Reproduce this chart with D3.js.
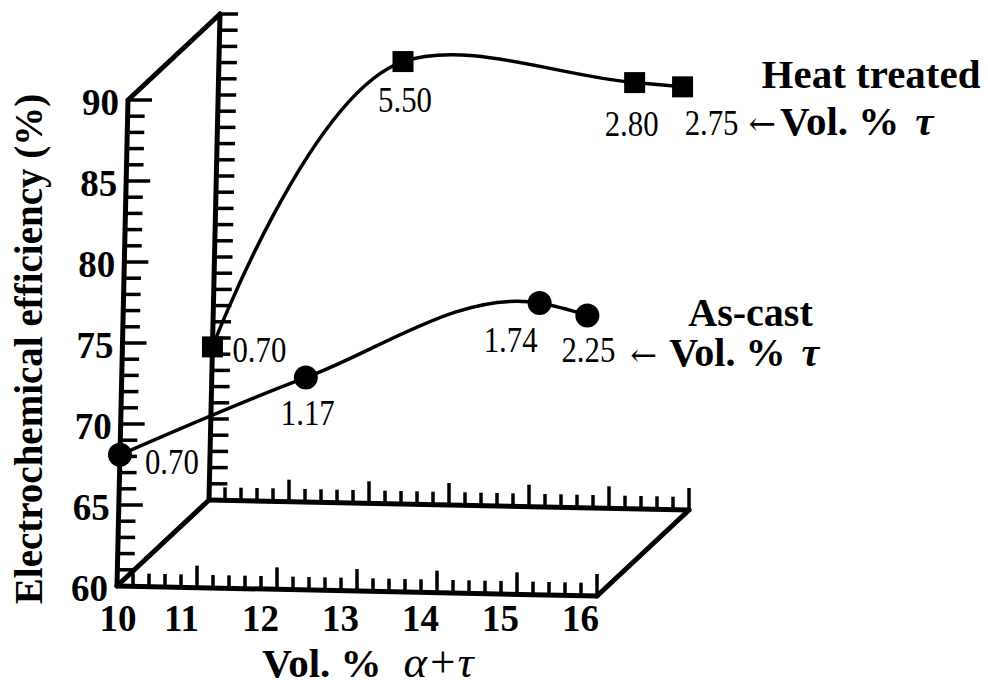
<!DOCTYPE html>
<html>
<head>
<meta charset="utf-8">
<script src="https://cdn.jsdelivr.net/npm/d3@7"></script>
<style>
  body { margin: 0; background: #fff; }
  text { font-family: "Liberation Serif", "Times New Roman", serif; fill: #000; }
</style>
</head>
<body>
<div id="chart-area"></div>
<script>
// data
const volAlphaTau = [10.0, 12.3, 15.2, 15.8];      // Vol. % alpha+tau
const asCast = [68.1, 73.1, 78.0, 77.3];           // front plane
const heatTreated = [69.45, 87.3, 86.3, 86.1];     // back plane
const tauAsCast = ["0.70", "1.17", "1.74", "2.25"];
const tauHeat = ["0.70", "5.50", "2.80", "2.75"];
const xTickLabels = [10, 11, 12, 13, 14, 15, 16];
const yTickLabels = [60, 65, 70, 75, 80, 85, 90];

const width = 988, height = 686;
const origin = [117, 586];      // x=10, y=60 on the front plane
const depth = [92, -86];        // offset of the back plane

const svg = d3.select("#chart-area")
    .append("svg")
    .attr("width", width)
    .attr("height", height);

svg.append("rect").attr("width", width).attr("height", height).attr("fill", "#fff");

// oblique projection built from linear scales
const xRun = d3.scaleLinear().domain([10, 16]).range([0, 480]);
const xRise = d3.scaleLinear().domain([10, 16]).range([0, 10]);
const yRise = d3.scaleLinear().domain([60, 90]).range([0, -486]);
const ySlant = d3.scaleLinear().domain([60, 90]).range([0, 11]);

const P = (x, y, z) => [
    origin[0] + xRun(x) + ySlant(y) + z * depth[0],
    origin[1] + xRise(x) + yRise(y) + z * depth[1]
];

const axisW = 5, tickW = 3.5;
const g = svg.append("g");

function seg(a, b, w, cap) {
    g.append("line")
        .attr("x1", a[0]).attr("y1", a[1])
        .attr("x2", b[0]).attr("y2", b[1])
        .attr("stroke", "#000").attr("stroke-width", w)
        .attr("stroke-linecap", cap || "round");
}

// y ticks, every 1 %
d3.range(61, 91).forEach(v => {
    const major = v % 5 === 0;
    [0, 1].forEach(z => {
        const a = P(10, v, z);
        const len = z === 0 ? (major ? 24 : 17) : 18;
        seg(a, [a[0] + len, a[1]], tickW, "butt");
    });
});

// x ticks, every 0.2
d3.range(1, 31).forEach(i => {
    const v = 10 + i * 0.2;
    const major = i % 5 === 0;
    [0, 1].forEach(z => {
        const a = P(v, 60, z);
        seg(a, [a[0], a[1] - (major ? 22 : 13)], tickW, "butt");
    });
});

// frame
[0, 1].forEach(z => {
    seg(P(10, 60, z), P(10, 90, z), axisW);
    seg(P(10, 60, z), P(16, 60, z), axisW);
});
seg(P(10, 60, 0), P(10, 60, 1), axisW);
seg(P(16, 60, 0), P(16, 60, 1), axisW);
seg(P(10, 90, 0), P(10, 90, 1), axisW);

// tick labels
g.selectAll(".ylab")
    .data(yTickLabels)
    .join("text")
    .attr("x", d => P(10, d, 0)[0] - 9)
    .attr("y", d => P(10, d, 0)[1] + 15)
    .attr("text-anchor", "end")
    .attr("font-size", 37)
    .attr("font-weight", "bold")
    .text(d => d);

g.selectAll(".xlab")
    .data(xTickLabels)
    .join("text")
    .attr("x", d => d === 10 ? P(d, 60, 0)[0] + 1 : P(d, 60, 0)[0] + 2)
    .attr("y", 631)
    .attr("text-anchor", d => d === 10 ? "middle" : "end")
    .attr("font-size", 37)
    .attr("font-weight", "bold")
    .text(d => d);

// axis titles
g.append("text")
    .attr("transform", "translate(42,349) rotate(-90)")
    .attr("text-anchor", "middle")
    .attr("font-size", 39)
    .attr("font-weight", "bold")
    .text("Electrochemical efficiency (%)");

const xt = g.append("text")
    .attr("x", 368).attr("y", 677)
    .attr("text-anchor", "middle")
    .attr("font-size", 41)
    .attr("font-weight", "bold");
xt.append("tspan").text("Vol. %");
xt.append("tspan").attr("dx", 22).attr("font-style", "italic").attr("font-weight", "normal")
    .attr("font-size", 45).text("α+τ");

// series
const line = d3.line().curve(d3.curveCatmullRom.alpha(1));

const heatPts = volAlphaTau.map((x, i) => P(x, heatTreated[i], 1));
const castPts = volAlphaTau.map((x, i) => P(x, asCast[i], 0));

[heatPts, castPts].forEach(pts => {
    g.append("path")
        .attr("d", line(pts))
        .attr("fill", "none")
        .attr("stroke", "#000")
        .attr("stroke-width", 3.5);
});

g.selectAll(".sq")
    .data(heatPts)
    .join("rect")
    .attr("x", d => d[0] - 10.5)
    .attr("y", d => d[1] - 10.5)
    .attr("width", 21).attr("height", 21)
    .attr("fill", "#000");

g.selectAll(".ci")
    .data(castPts)
    .join("circle")
    .attr("cx", d => d[0]).attr("cy", d => d[1])
    .attr("r", 12)
    .attr("fill", "#000");

// point labels (vol. % tau)
const heatOff = [[20, 15, "start"], [2, 50, "middle"], [-3, 53, "middle"], [29, 48, "middle"]];
const castOff = [[25, 19, "start"], [2, 47, "middle"], [-29, 49, "middle"], [1, 47, "middle"]];

function pointLabels(pts, labels, off) {
    g.selectAll(null)
        .data(labels)
        .join("text")
        .attr("transform", (d, i) => `translate(${pts[i][0] + off[i][0]},${pts[i][1] + off[i][1]}) scale(0.88,1.05)`)
        .attr("text-anchor", (d, i) => off[i][2])
        .attr("font-size", 35)
        .text(d => d);
}
pointLabels(heatPts, tauHeat, heatOff);
pointLabels(castPts, tauAsCast, castOff);

// series names and the "<- Vol. % tau" note
function seriesNote(last, name, nameDx, nameDy, noteDx, noteDy, size, gap, tauGap) {
    g.append("text")
        .attr("x", last[0] + nameDx).attr("y", last[1] + nameDy)
        .attr("font-size", size)
        .attr("font-weight", "bold")
        .text(name);
    const t = g.append("text")
        .attr("x", last[0] + noteDx).attr("y", last[1] + noteDy)
        .attr("font-size", size)
        .attr("font-weight", "bold");
    t.append("tspan").attr("font-family", "DejaVu Serif").attr("font-weight", "normal")
        .attr("font-size", size * 0.8).text("←");
    t.append("tspan").attr("dx", gap).text("Vol. %");
    t.append("tspan").attr("dx", tauGap).attr("font-style", "italic").text("τ");
}
seriesNote(heatPts[3], "Heat treated", 79, 1, 66, 48, 41, 4, 16);
seriesNote(castPts[3], "As-cast", 101, 11, 43, 51, 40, 12, 16);
</script>
</body>
</html>
